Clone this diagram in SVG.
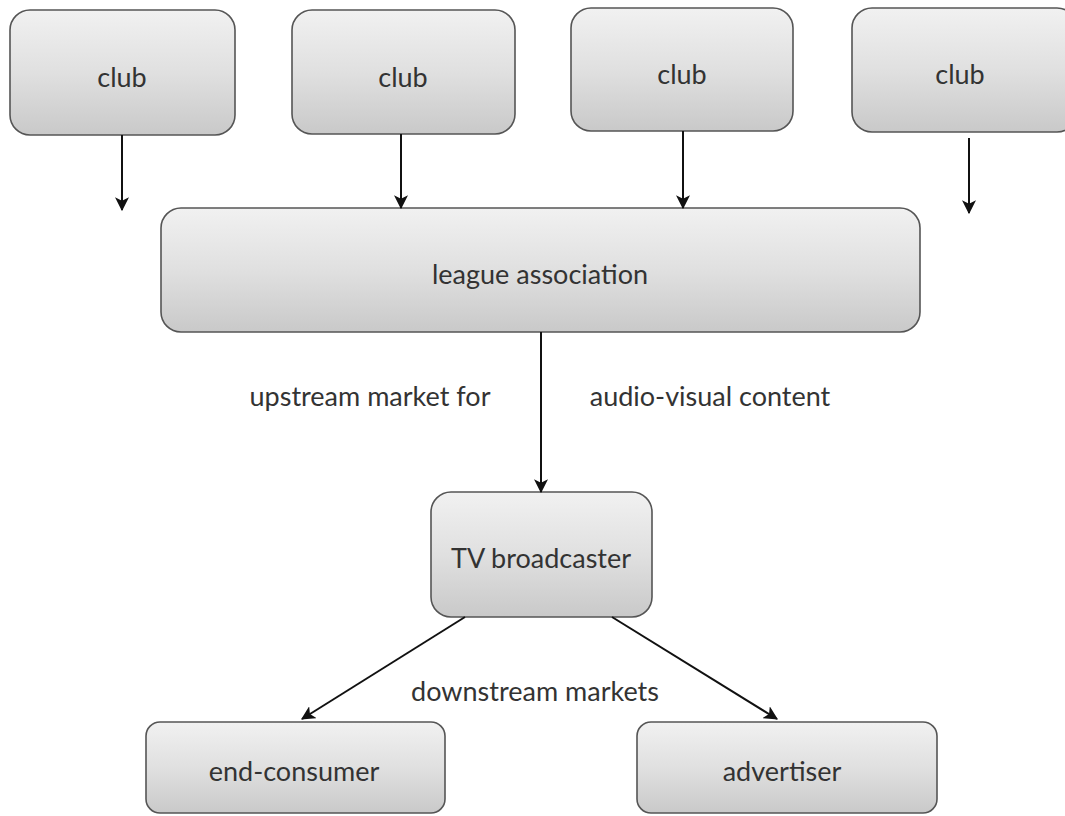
<svg xmlns="http://www.w3.org/2000/svg" width="1065" height="816" viewBox="0 0 1065 816">
<defs>
<linearGradient id="g" x1="0" y1="0" x2="0" y2="1">
<stop offset="0" stop-color="#f1f1f1"/>
<stop offset="0.5" stop-color="#e0e0e0"/>
<stop offset="1" stop-color="#c9c9c9"/>
</linearGradient>
<marker id="ah2" viewBox="0 0 12 12" refX="11" refY="6" markerWidth="14" markerHeight="14" orient="auto" markerUnits="userSpaceOnUse">
<path d="M0,0 L12,6 L0,12 L3,6 Z" fill="#111"/>
</marker>
</defs>
<style>
.box{fill:url(#g);stroke:#555;stroke-width:1.6}
.t{font-family:Lato,"Open Sans",sans-serif;font-size:27px;fill:#333;text-anchor:middle;dominant-baseline:central}
.c{stroke:#111;stroke-width:2;fill:none;marker-end:url(#ah2)}
</style>
<rect width="1065" height="816" fill="#fff"/>
<g id="club1"><rect class="box" x="10" y="10" width="225" height="125" rx="20"/><text class="t" x="122" y="76">club</text></g>
<g id="club2"><rect class="box" x="292" y="10" width="223" height="124" rx="20"/><text class="t" x="403" y="76">club</text></g>
<g id="club3"><rect class="box" x="571" y="8" width="222" height="123" rx="20"/><text class="t" x="682" y="73">club</text></g>
<g id="club4"><rect class="box" x="852" y="8" width="225" height="124" rx="20"/><text class="t" x="960" y="73">club</text></g>
<g id="league"><rect class="box" x="161" y="208" width="759" height="124" rx="20"/><text class="t" x="540" y="273">league association</text></g>
<g id="tv"><rect class="box" x="431" y="492" width="221" height="125" rx="20"/><text class="t" x="541" y="557">TV broadcaster</text></g>
<g id="endconsumer"><rect class="box" x="146" y="722" width="299" height="91" rx="14"/><text class="t" x="294" y="770">end-consumer</text></g>
<g id="advertiser"><rect class="box" x="637" y="722" width="300" height="91" rx="14"/><text class="t" x="782" y="770">advertiser</text></g>
<g id="connectors">
<line class="c" x1="122" y1="135" x2="122" y2="210"/>
<line class="c" x1="401" y1="134" x2="401" y2="208"/>
<line class="c" x1="683" y1="131" x2="683" y2="208"/>
<line class="c" x1="969" y1="138" x2="969" y2="213"/>
<line class="c" x1="541" y1="332" x2="541" y2="492"/>
<line class="c" x1="465" y1="617" x2="302" y2="719"/>
<line class="c" x1="612" y1="617" x2="777" y2="719"/>
</g>
<g id="labels">
<text class="t" x="370" y="395">upstream market for</text>
<text class="t" x="710" y="395">audio-visual content</text>
<text class="t" x="535" y="690">downstream markets</text>
</g>
</svg>
